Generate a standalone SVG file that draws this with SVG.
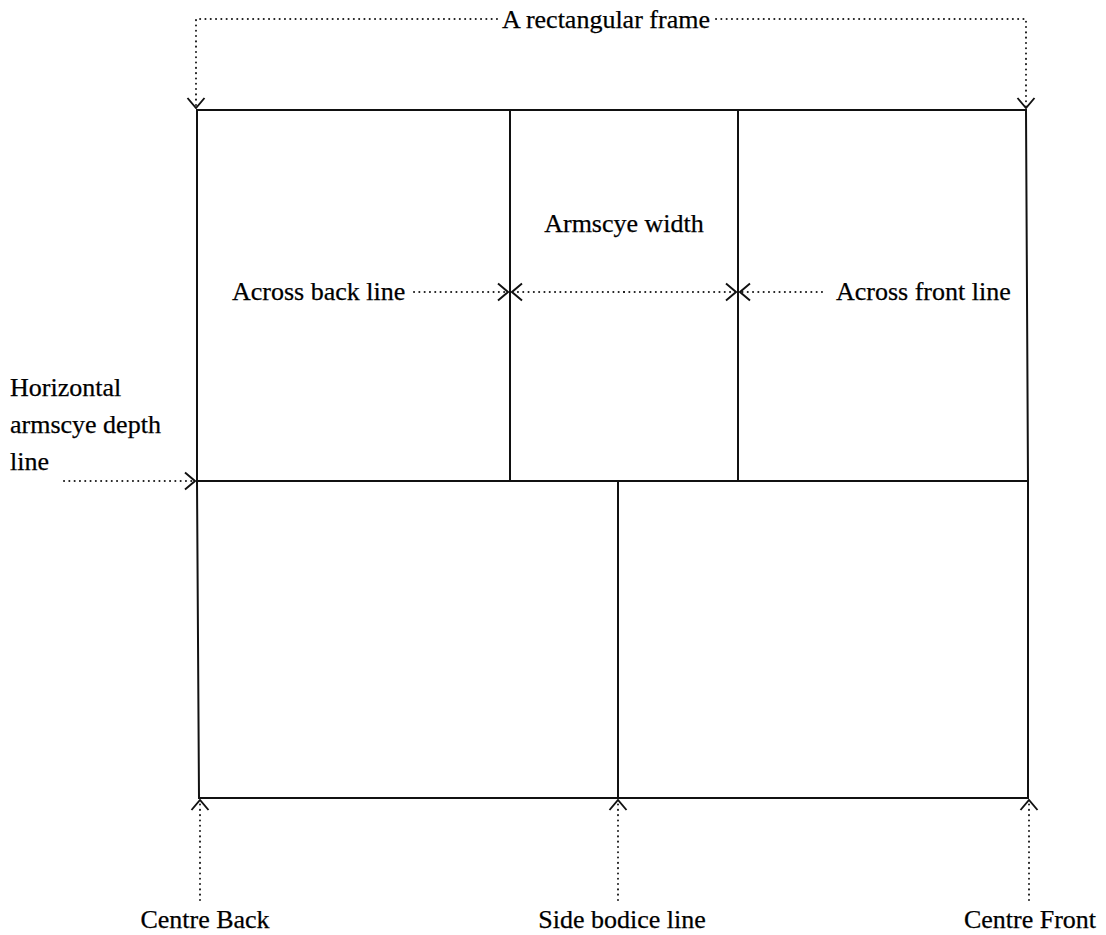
<svg xmlns="http://www.w3.org/2000/svg" width="1106" height="935" viewBox="0 0 1106 935">
  <style>
    .frame { fill: none; stroke: #111; stroke-width: 2; }
    .dot { fill: none; stroke: #1a1a1a; stroke-width: 2; stroke-linecap: round; stroke-dasharray: 0.1 5.2; }
    .lbl { font-family: "Liberation Serif", "Times New Roman", serif; font-size: 26px; fill: #000; stroke: #000; stroke-width: 0.25; }
  </style>
  <defs>
    <marker id="vee" viewBox="0 0 12 20" refX="11" refY="10" markerWidth="12" markerHeight="20" markerUnits="userSpaceOnUse" orient="auto">
      <path d="M1,1.5 L11,10 L1,18.5" fill="none" stroke="#111" stroke-width="1.9"/>
    </marker>
  </defs>

  <rect width="1106" height="935" fill="#fff"/>

  <!-- bodice block frame -->
  <g id="frame">
    <path class="frame" d="M197,110 L1026,110 L1028,481 L1028,798 L199,798 L197,481 Z"/>
    <line class="frame" x1="197" y1="481" x2="1028" y2="481"/>
    <line class="frame" x1="510" y1="110" x2="510" y2="481"/>
    <line class="frame" x1="738" y1="110" x2="738" y2="481"/>
    <line class="frame" x1="618" y1="481" x2="618" y2="798"/>
  </g>

  <!-- dotted leaders -->
  <g id="connectors">
    <polyline class="dot" points="497,19 196,19 196,108" marker-end="url(#vee)"/>
    <polyline class="dot" points="716,19 1026,19 1026,108" marker-end="url(#vee)"/>
    <line class="dot" x1="414" y1="292" x2="508" y2="292" marker-end="url(#vee)"/>
    <line class="dot" x1="624" y1="292" x2="512" y2="292" marker-end="url(#vee)"/>
    <line class="dot" x1="624" y1="292" x2="736" y2="292" marker-end="url(#vee)"/>
    <line class="dot" x1="822" y1="292" x2="740" y2="292" marker-end="url(#vee)"/>
    <line class="dot" x1="64" y1="481" x2="195" y2="481" marker-end="url(#vee)"/>
    <line class="dot" x1="200" y1="900" x2="200" y2="800" marker-end="url(#vee)"/>
    <line class="dot" x1="618" y1="900" x2="618" y2="800" marker-end="url(#vee)"/>
    <line class="dot" x1="1029" y1="900" x2="1029" y2="800" marker-end="url(#vee)"/>
  </g>

  <g id="label-frame"><text class="lbl" x="606" y="28" text-anchor="middle">A rectangular frame</text></g>
  <g id="label-armscye-width"><text class="lbl" x="624" y="232" text-anchor="middle">Armscye width</text></g>
  <g id="label-across-back"><text class="lbl" x="232" y="300">Across back line</text></g>
  <g id="label-across-front"><text class="lbl" x="836" y="300">Across front line</text></g>
  <g id="label-armscye-depth">
    <text class="lbl" x="10" y="396">Horizontal</text>
    <text class="lbl" x="10" y="433">armscye depth</text>
    <text class="lbl" x="10" y="470">line</text>
  </g>
  <g id="label-centre-back"><text class="lbl" x="205" y="928" text-anchor="middle">Centre Back</text></g>
  <g id="label-side-bodice"><text class="lbl" x="622" y="928" text-anchor="middle">Side bodice line</text></g>
  <g id="label-centre-front"><text class="lbl" x="1030" y="928" text-anchor="middle">Centre Front</text></g>
</svg>
